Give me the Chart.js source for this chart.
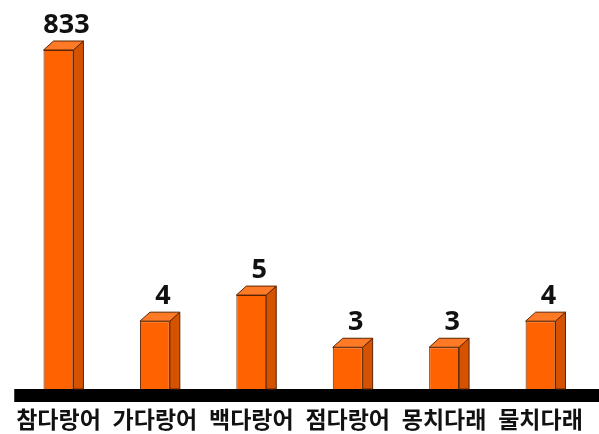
<!DOCTYPE html>
<html>
<head>
<meta charset="utf-8">
<script src="https://cdn.jsdelivr.net/npm/chart.js@4.4.0/dist/chart.umd.min.js"></script>
<style>
  html, body { margin: 0; padding: 0; background: #fff; }
  #wrap { width: 599px; height: 434px; }
</style>
</head>
<body>
<div id="wrap"><canvas id="c" width="599" height="434"></canvas></div>
<script>
// ---- data ----
const categories = ['참다랑어', '가다랑어', '백다랑어', '점다랑어', '몽치다래', '물치다래'];
const counts = [833, 4, 5, 3, 3, 4];

// ---- broken (two-segment) value axis: small values get most of the room ----
const AXIS_MIN = 1.4;
const AXIS_BREAK = 6;
const BREAK_FRACTION = 0.354;
const AXIS_MAX = 833;

class BrokenLinearScale extends Chart.LinearScale {
  _frac(v) {
    if (v <= AXIS_MIN) return 0;
    if (v <= AXIS_BREAK) {
      return (v - AXIS_MIN) / (AXIS_BREAK - AXIS_MIN) * BREAK_FRACTION;
    }
    return BREAK_FRACTION + (v - AXIS_BREAK) / (AXIS_MAX - AXIS_BREAK) * (1 - BREAK_FRACTION);
  }
  getPixelForValue(v) {
    return this.getPixelForDecimal(this._frac(v));
  }
  getValueForPixel(p) {
    const f = this.getDecimalForPixel(p);
    if (f <= BREAK_FRACTION) {
      return AXIS_MIN + f / BREAK_FRACTION * (AXIS_BREAK - AXIS_MIN);
    }
    return AXIS_BREAK + (f - BREAK_FRACTION) / (1 - BREAK_FRACTION) * (AXIS_MAX - AXIS_BREAK);
  }
}
BrokenLinearScale.id = 'brokenLinear';
BrokenLinearScale.defaults = Chart.LinearScale.defaults;
Chart.register(BrokenLinearScale);

// ---- 3D faces, baseline band and value labels ----
const DEPTH_X = 10, DEPTH_Y = 9;
const bar3d = {
  id: 'bar3d',
  beforeDatasetsDraw(chart) {
    const ctx = chart.ctx, a = chart.chartArea;
    ctx.save();
    ctx.fillStyle = '#000';
    ctx.fillRect(a.left + 4, a.bottom, chart.width - a.left - 4, 13);
    ctx.restore();
  },
  afterDatasetsDraw(chart) {
    const ctx = chart.ctx;
    const meta = chart.getDatasetMeta(0);
    ctx.save();
    meta.data.forEach((bar, i) => {
      const p = bar.getProps(['x', 'y', 'base', 'width'], true);
      const l = p.x - p.width / 2, r = p.x + p.width / 2, t = p.y, b = p.base;
      ctx.lineWidth = 1;
      ctx.strokeStyle = '#5a2400';
      // side face
      ctx.beginPath();
      ctx.moveTo(r, t);
      ctx.lineTo(r + DEPTH_X, t - DEPTH_Y);
      ctx.lineTo(r + DEPTH_X, b);
      ctx.lineTo(r, b);
      ctx.closePath();
      ctx.fillStyle = '#d45200';
      ctx.fill();
      ctx.stroke();
      // top face
      ctx.beginPath();
      ctx.moveTo(l, t);
      ctx.lineTo(l + DEPTH_X, t - DEPTH_Y);
      ctx.lineTo(r + DEPTH_X, t - DEPTH_Y);
      ctx.lineTo(r, t);
      ctx.closePath();
      ctx.fillStyle = '#ff7a26';
      ctx.fill();
      ctx.stroke();
      // value label
      ctx.fillStyle = '#111';
      ctx.font = 'bold 27px "Noto Sans", "DejaVu Sans", sans-serif';
      ctx.textAlign = 'center';
      ctx.textBaseline = 'alphabetic';
      ctx.fillText(String(counts[i]), p.x + 8, t - DEPTH_Y - 8);
    });
    ctx.restore();
  }
};

new Chart(document.getElementById('c'), {
  type: 'bar',
  data: {
    labels: categories,
    datasets: [{
      data: counts,
      base: AXIS_MIN,
      backgroundColor: '#ff6200',
      borderColor: '#5a2400',
      borderWidth: 1,
      borderSkipped: 'bottom',
      barPercentage: 0.62,
      categoryPercentage: 0.5
    }]
  },
  options: {
    responsive: false,
    animation: false,
    devicePixelRatio: 1,
    layout: { padding: { left: 8, right: 4, top: 50, bottom: 0 } },
    plugins: { legend: { display: false }, tooltip: { enabled: false } },
    scales: {
      x: {
        grid: { display: false, drawTicks: false },
        border: { display: false },
        afterFit(scale) { scale.height = 45; },
        ticks: {
          color: '#111',
          padding: 16,
          maxRotation: 0,
          autoSkip: false,
          font: { family: '"Noto Sans CJK KR", sans-serif', size: 23, weight: 'bold' }
        }
      },
      y: {
        type: 'brokenLinear',
        display: false,
        min: AXIS_MIN,
        max: AXIS_MAX
      }
    }
  },
  plugins: [bar3d]
});
</script>
</body>
</html>
